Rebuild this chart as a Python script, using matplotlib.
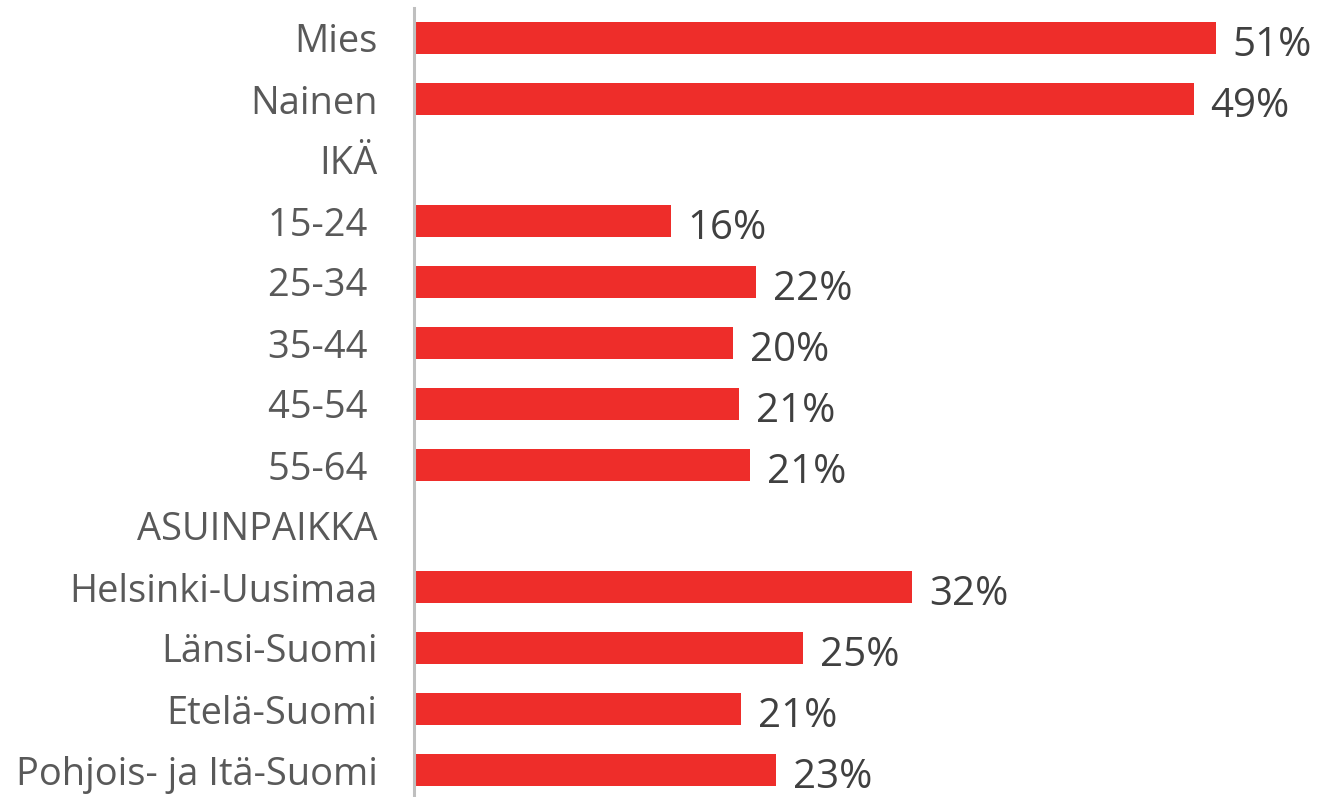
import matplotlib
matplotlib.use("Agg")
import matplotlib.pyplot as plt

categories = ["Mies", "Nainen", "IKÄ", "15-24 ", "25-34 ", "35-44 ", "45-54 ", "55-64 ",
              "ASUINPAIKKA", "Helsinki-Uusimaa", "Länsi-Suomi", "Etelä-Suomi",
              "Pohjois- ja Itä-Suomi"]
values = [50.76, 49.37, None, 16.27, 21.65, 20.19, 20.57, 21.27,
          None, 31.58, 24.68, 20.70, 22.97]

W, H = 1322, 797
fig = plt.figure(figsize=(W / 100, H / 100), dpi=100)
ax_left = 413.5 / W
ax = fig.add_axes([ax_left, 0, 1 - ax_left, 1 - 8 / H])

px_per_pct = 15.8
ax.set_xlim(0, (W - 413.5) / px_per_pct)
ax.set_ylim(12 + 27 / 61, -30 / 61)

pos = list(range(len(categories)))
for i, v in zip(pos, values):
    if v is None:
        continue
    ax.barh(i, v, height=0.51, color="#ee2d2a", zorder=2)
    ax.text(v + 17 / px_per_pct, i + 0.04, f"{v:.0f}%", va="center_baseline", ha="left",
            fontsize=29, color="#404040", family="Open Sans")

ax.set_yticks(pos)
ax.set_yticklabels(categories, fontsize=27.4, color="#595959", family="Open Sans")
ax.tick_params(axis="y", length=0, pad=26)
ax.set_xticks([])
for s in ["top", "right", "bottom"]:
    ax.spines[s].set_visible(False)
ax.spines["left"].set_color("#bfbfbf")
ax.spines["left"].set_linewidth(2.2)
ax.spines["left"].set_zorder(3)

fig.savefig("out.png", dpi=100)
